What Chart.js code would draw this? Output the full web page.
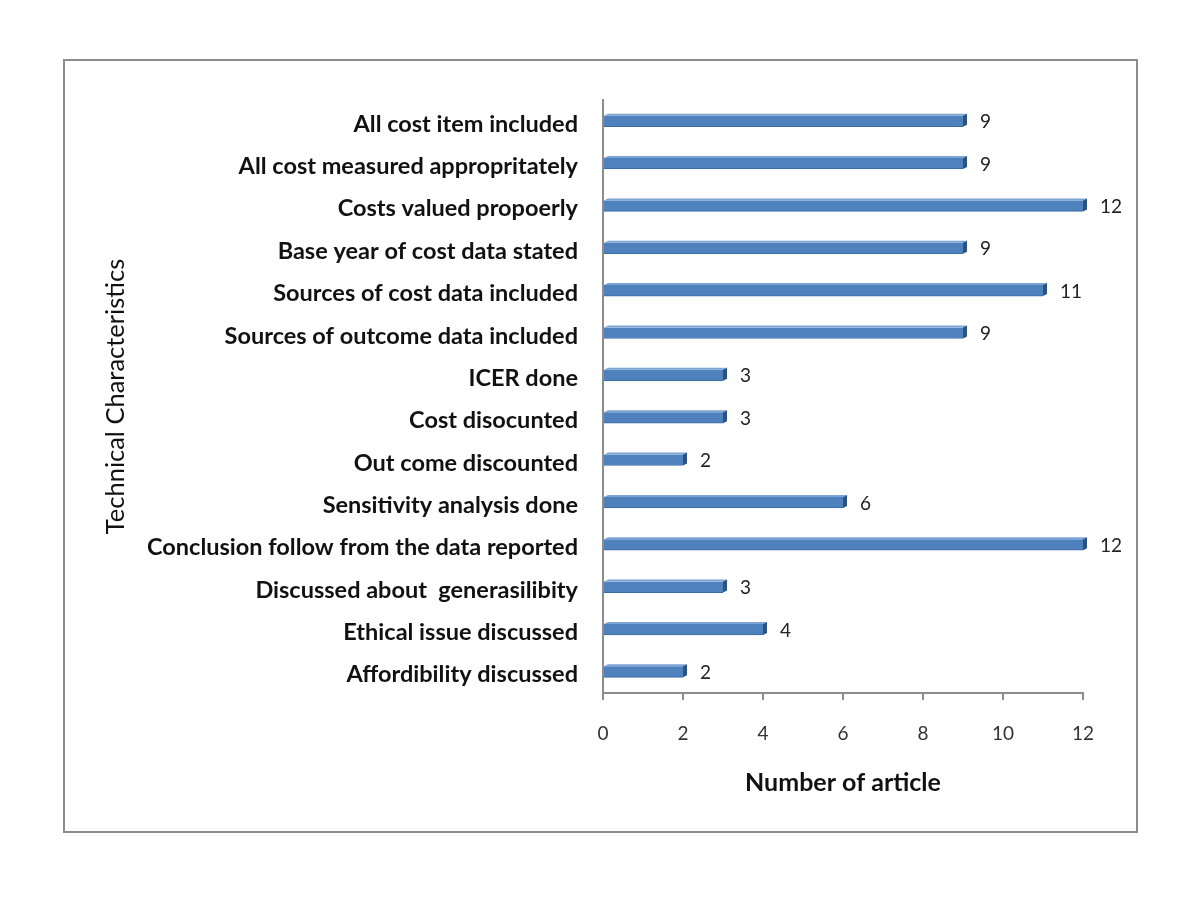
<!DOCTYPE html>
<html>
<head>
<meta charset="utf-8">
<script src="https://cdn.jsdelivr.net/npm/chart.js@4/dist/chart.umd.min.js"></script>
<style>
html,body{margin:0;padding:0;background:#fff;}
#wrap{width:1200px;height:902px;position:relative;}
</style>
</head>
<body>
<div id="wrap"><canvas id="c" width="1200" height="902"></canvas></div>
<script>
const categories = [
  "All cost item included",
  "All cost measured appropritately",
  "Costs valued propoerly",
  "Base year of cost data stated",
  "Sources of cost data included",
  "Sources of outcome data included",
  "ICER done",
  "Cost disocunted",
  "Out come discounted",
  "Sensitivity analysis done",
  "Conclusion follow from the data reported",
  "Discussed about  generasilibity",
  "Ethical issue discussed",
  "Affordibility discussed"
];
const articleCounts = [9, 9, 12, 9, 11, 9, 3, 3, 2, 6, 12, 3, 4, 2];
const xTicks = [0, 2, 4, 6, 8, 10, 12];
const xTitle = "Number of article";
const yTitle = "Technical Characteristics";

const FONT = "Lato, 'Liberation Sans', sans-serif";

const framePlugin = {
  id: 'frame',
  beforeDraw(chart) {
    const ctx = chart.ctx;
    ctx.save();
    ctx.fillStyle = '#fff';
    ctx.fillRect(0, 0, chart.width, chart.height);
    ctx.strokeStyle = '#8c8c8c';
    ctx.lineWidth = 2;
    ctx.strokeRect(64, 60, 1073, 772);
    ctx.restore();
  }
};

const depthPlugin = {
  id: 'depth',
  afterDatasetsDraw(chart) {
    const ctx = chart.ctx;
    const meta = chart.getDatasetMeta(0);
    ctx.save();
    meta.data.forEach((bar) => {
      const h = bar.height;
      const top = bar.y - h / 2, bottom = bar.y + h / 2;
      const x = bar.x, base = bar.base;
      ctx.fillStyle = '#7CA3D6';
      ctx.beginPath();
      ctx.moveTo(base, top);
      ctx.lineTo(base + 4, top - 2);
      ctx.lineTo(x + 4, top - 2);
      ctx.lineTo(x, top);
      ctx.closePath();
      ctx.fill();
      ctx.fillStyle = '#2B5382';
      ctx.beginPath();
      ctx.moveTo(x, top);
      ctx.lineTo(x + 4, top - 2);
      ctx.lineTo(x + 4, bottom - 2);
      ctx.lineTo(x, bottom);
      ctx.closePath();
      ctx.fill();
    });
    ctx.restore();
  }
};

const labelPlugin = {
  id: 'valueLabels',
  afterDatasetsDraw(chart) {
    const ctx = chart.ctx;
    const meta = chart.getDatasetMeta(0);
    ctx.save();
    ctx.font = "19px " + FONT;
    ctx.fillStyle = '#222';
    ctx.textAlign = 'left';
    ctx.textBaseline = 'middle';
    meta.data.forEach((bar, i) => {
      ctx.fillText(String(articleCounts[i]), bar.x + 17, bar.y + 1);
    });
    ctx.restore();
  }
};

new Chart(document.getElementById('c'), {
  type: 'bar',
  data: {
    labels: categories,
    datasets: [{
      data: articleCounts,
      backgroundColor: '#4F81BD',
      borderColor: '#3B6AA3',
      borderWidth: {top: 0, left: 0, bottom: 1, right: 0},
      borderSkipped: false,
      barThickness: 11
    }]
  },
  options: {
    indexAxis: 'y',
    responsive: false,
    animation: false,
    devicePixelRatio: 1,
    layout: {padding: {left: 0, top: 100, right: 117, bottom: 104}},
    plugins: {legend: {display: false}, tooltip: {enabled: false}},
    scales: {
      x: {
        min: 0, max: 12,
        afterBuildTicks(scale) { scale.ticks = xTicks.map(v => ({value: v})); },
        afterFit(scale) { scale.height = 105; },
        grid: {display: true, drawOnChartArea: false, drawTicks: true, tickLength: 7, color: '#8c8c8c', lineWidth: 2},
        border: {display: true, color: '#8c8c8c', width: 2},
        ticks: {font: {family: FONT, size: 19}, color: '#333', padding: 22},
        title: {display: true, text: xTitle, font: {family: FONT, size: 25, weight: 'bold'}, color: '#111', padding: {top: 0, bottom: 0}}
      },
      y: {
        afterFit(scale) { scale.width = 603; },
        grid: {display: false, drawTicks: false},
        border: {display: true, color: '#8c8c8c', width: 2},
        ticks: {font: {family: FONT, size: 23.5, weight: 'bold'}, color: '#111', padding: 25, autoSkip: false, labelOffset: 3},
        title: {display: true, text: yTitle, font: {family: FONT, size: 25.5}, color: '#111', padding: {top: 100, bottom: 0}}
      }
    }
  },
  plugins: [framePlugin, depthPlugin, labelPlugin]
});
</script>
</body>
</html>
